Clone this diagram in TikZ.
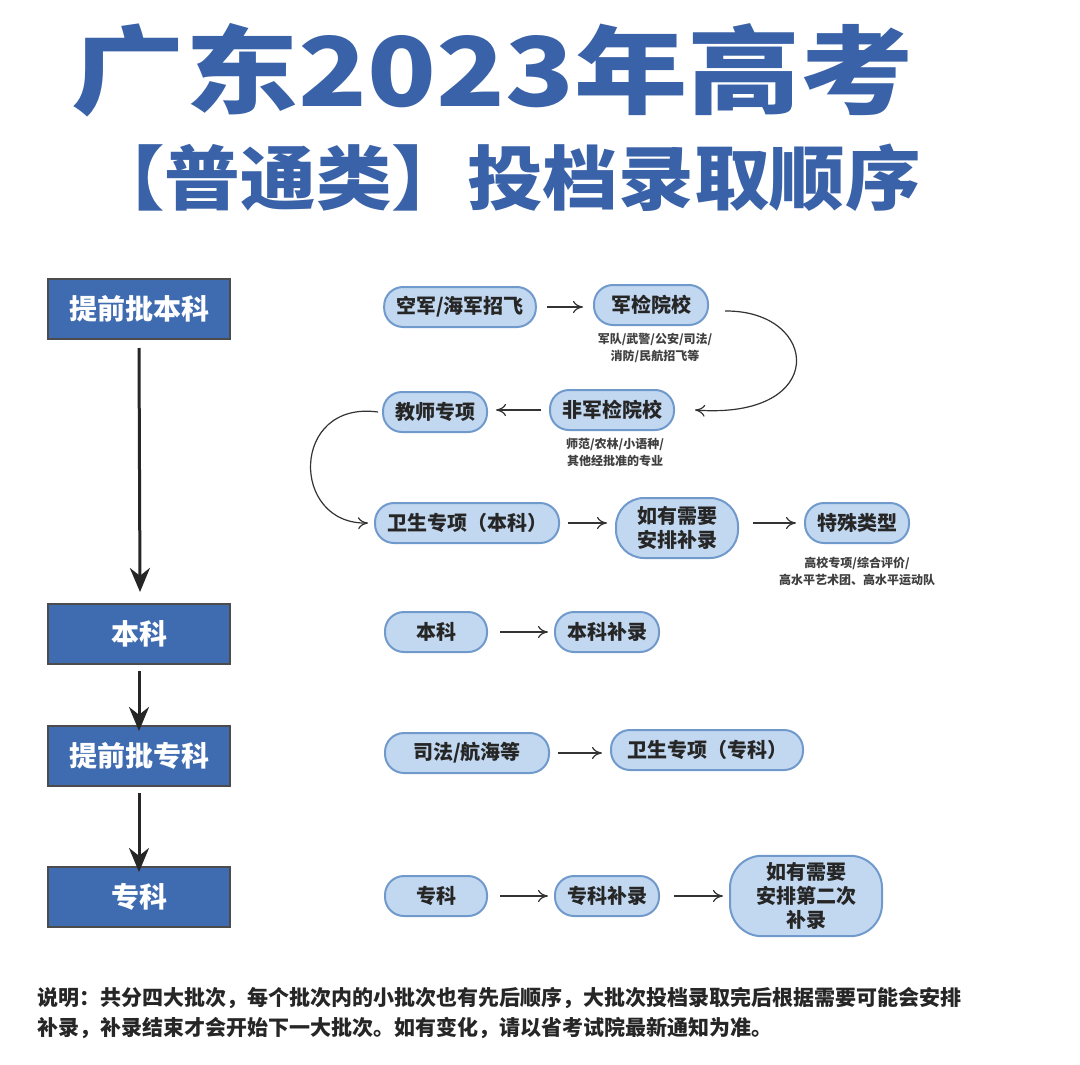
\documentclass[tikz,border=0pt]{standalone}
\usepackage{fontspec}
\setmainfont{Noto Sans CJK SC}
\usetikzlibrary{arrows.meta}
\definecolor{tblue}{HTML}{3A62A8}
\definecolor{lbox}{HTML}{3F6BB0}
\definecolor{pill}{HTML}{C2D8F0}
\definecolor{pilld}{HTML}{7099CC}
\begin{document}
\begin{tikzpicture}[x=0.5pt,y=-0.5pt,
  lbx/.style={draw=black!70,line width=1pt,fill=lbox,text=white,minimum width=91pt,minimum height=30pt,font=\fontsize{14}{16}\selectfont\bfseries},
  pl/.style={draw=pilld,line width=1pt,fill=pill,rounded corners=9.5pt,minimum height=20pt,inner xsep=6pt,font=\fontsize{10}{12}\selectfont\bfseries,text=black!85,align=center},
  sm/.style={font=\fontsize{6}{8.5}\selectfont\bfseries,text=black!75,align=center},
  ar/.style={-{To[length=5pt,width=6pt]},black!80,line width=0.6pt},
  bar/.style={-{Stealth[length=12pt,width=10pt]},black!85,line width=1.5pt}]
\useasboundingbox[fill=white] (0,0) rectangle (1080,1064);
\node[font=\fontsize{48}{50}\selectfont\bfseries,text=tblue,xscale=1.18] (t1) at (493,70) {广东2023年高考};
\node[font=\fontsize{35}{36}\selectfont\bfseries,text=tblue,xscale=1.08] (t2) at (505,178) {【普通类】投档录取顺序};
\node[lbx] (a) at (139,309) {提前批本科};
\node[lbx] (b) at (139,634) {本科};
\node[lbx] (c) at (139,756) {提前批专科};
\node[lbx] (d) at (139,897) {专科};
\coordinate (a2) at (140,592);
\draw[bar] ([yshift=-4pt]a.south) -- (a2);
\draw[bar] ([yshift=-3pt]b.south) -- ([yshift=-3pt]c.north);
\draw[bar] ([yshift=-3pt]c.south) -- ([yshift=-3pt]d.north);
\node[pl,minimum width=75pt] (p1) at (460,307) {空军/海军招飞};
\node[pl,minimum width=57pt] (p2) at (651,305) {军检院校};
\node[sm] (s1) at (655,348) {军队/武警/公安/司法/\\消防/民航招飞等};
\node[pl,minimum width=62pt] (p3) at (612,410) {非军检院校};
\node[pl,minimum width=50pt] (p4) at (435,412) {教师专项};
\node[sm] (s2) at (615,452) {师范/农林/小语种/\\其他经批准的专业};
\node[pl,minimum width=83pt] (p5) at (467,523) {卫生专项（本科）};
\node[pl,minimum height=30pt,minimum width=61pt,rounded corners=14pt] (p6) at (677,528) {如有需要\\安排补录};
\node[pl,minimum width=52pt] (p7) at (857,523) {特殊类型};
\node[sm] (s3) at (857,571) {高校专项/综合评价/\\高水平艺术团、高水平运动队};
\node[pl,minimum width=51pt] (p8) at (436,632) {本科};
\node[pl,minimum width=51pt] (p9) at (607,632) {本科补录};
\node[pl,minimum width=82pt] (p10) at (467,753) {司法/航海等};
\node[pl,minimum width=96pt] (p11) at (707,750) {卫生专项（专科）};
\node[pl,minimum width=51pt] (p12) at (436,896) {专科};
\node[pl,minimum width=51pt] (p13) at (607,896) {专科补录};
\node[pl,minimum height=37pt,minimum width=76pt,rounded corners=16pt] (p14) at (806,896) {如有需要\\安排第二次\\补录};
\draw[ar] ([xshift=5pt]p1.east) -- ([xshift=-5pt]p2.west |- p1.east);
\draw[ar] ([xshift=-4pt]p3.west) -- ([xshift=4pt]p4.east |- p3.west);
\draw[ar] ([xshift=4pt]p5.east) -- ([xshift=-4pt]p6.west |- p5.east);
\draw[ar] ([xshift=7pt]p6.east |- p7.west) -- ([xshift=-4pt]p7.west);
\draw[ar] ([xshift=6pt]p8.east) -- ([xshift=-3pt]p9.west);
\draw[ar] ([xshift=4pt]p10.east) -- ([xshift=-4pt]p11.west |- p10.east);
\draw[ar] ([xshift=6pt]p12.east) -- ([xshift=-3pt]p13.west);
\draw[ar] ([xshift=7pt]p13.east) -- ([xshift=-3pt]p14.west);
\draw[ar] ([xshift=8pt,yshift=-3pt]p2.east) .. controls (820,310) and (830,420) .. ([xshift=10pt]p3.east);
\draw[ar] ([xshift=-2pt]p4.west) .. controls (290,400) and (290,525) .. ([xshift=-3pt]p5.west);
\node[anchor=west,font=\fontsize{10.5}{15}\selectfont\bfseries,text=black!85,align=left] (n) at (30,1013) {说明：共分四大批次，每个批次内的小批次也有先后顺序，大批次投档录取完后根据需要可能会安排\\补录，补录结束才会开始下一大批次。如有变化，请以省考试院最新通知为准。};
\end{tikzpicture}
\end{document}
